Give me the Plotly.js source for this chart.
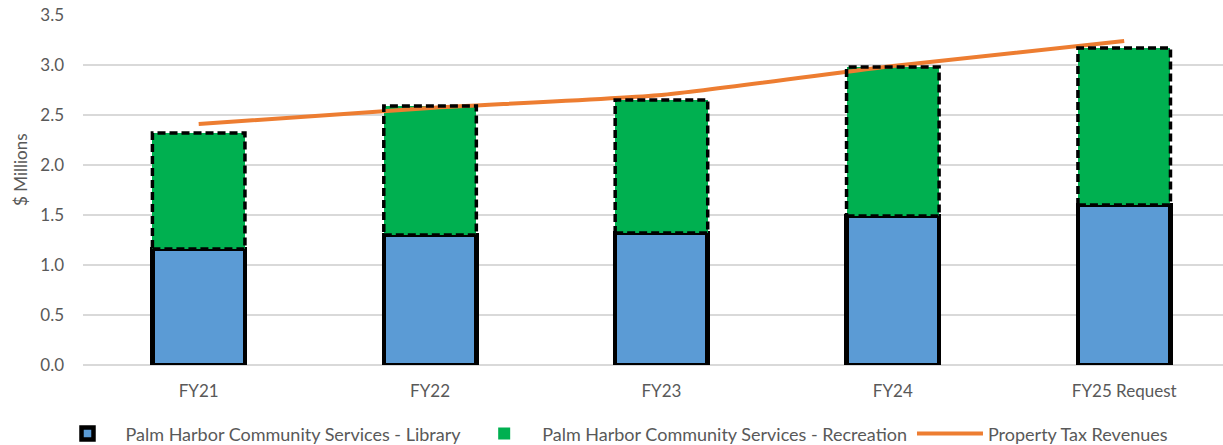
<!DOCTYPE html>
<html>
<head>
<meta charset="utf-8">
<script src="https://cdn.plot.ly/plotly-3.0.1.min.js"></script>
<style>html,body{margin:0;padding:0;background:#fff;}#chart{width:1223px;height:445px;}</style>
</head>
<body>
<div id="chart"></div>
<script>
const categories = ["FY21", "FY22", "FY23", "FY24", "FY25 Request"];
const library = [1.16, 1.30, 1.32, 1.49, 1.60];
const recreation = [1.16, 1.29, 1.33, 1.49, 1.57];
const propertyTax = [2.41, 2.57, 2.70, 2.99, 3.24];
const yTicks = [0, 0.5, 1.0, 1.5, 2.0, 2.5, 3.0, 3.5];
const yTickText = ["0.0", "0.5", "1.0", "1.5", "2.0", "2.5", "3.0", "3.5"];
const yTitle = "$ Millions";

const BAR_W = 0.4;
const FONT = "Lato, 'Open Sans', sans-serif";
const GREY = "#595959";

const traces = [
  {
    type: "bar", name: "Palm Harbor Community Services - Library",
    x: categories, y: library, width: BAR_W,
    marker: {color: "#5B9BD5", line: {color: "#000000", width: 4.5}},
    hoverinfo: "y"
  },
  {
    type: "bar", name: "Palm Harbor Community Services - Recreation",
    x: categories, y: recreation, width: BAR_W,
    marker: {color: "#00B050", line: {color: "#000000", width: 0}},
    hoverinfo: "y"
  },
  {
    type: "scatter", mode: "lines", name: "Property Tax Revenues",
    x: categories, y: propertyTax,
    line: {color: "#ED7D31", width: 4, shape: "spline", smoothing: 0.5}
  }
];

// dashed outlines for the recreation segments, positioned on the axes from the data
const shapes = categories.map((c, i) => ({
  type: "rect", xref: "x", yref: "y", layer: "above",
  x0: i - BAR_W / 2, x1: i + BAR_W / 2,
  y0: library[i], y1: library[i] + recreation[i],
  line: {color: "#000000", width: 3.5, dash: "8px,4px"}
}));

const layout = {
  width: 1223, height: 445,
  margin: {l: 83, r: 0, t: 15, b: 80},
  paper_bgcolor: "#ffffff", plot_bgcolor: "#ffffff",
  barmode: "stack",
  font: {family: FONT, size: 17, color: GREY},
  xaxis: {
    type: "category", range: [-0.5, 4.427],
    showgrid: false, zeroline: false, showline: false,
    ticks: "", tickfont: {size: 17, color: GREY}, ticklabelstandoff: 14
  },
  yaxis: {
    range: [0, 3.5], tickvals: yTicks, ticktext: yTickText,
    showgrid: true, gridcolor: "#d9d9d9", gridwidth: 1.3,
    zeroline: true, zerolinecolor: "#d9d9d9", zerolinewidth: 1.5,
    showline: false, ticks: "", ticklabelstandoff: 18,
    tickfont: {size: 17, color: GREY}
  },
  annotations: [{
    text: yTitle, textangle: -90, showarrow: false,
    xref: "paper", yref: "paper", x: -0.0544, xanchor: "center",
    y: 0.56, yanchor: "middle",
    font: {size: 17, color: GREY}
  }],
  legend: {
    orientation: "h", xref: "container", yref: "container",
    x: 0.5, xanchor: "center", y: 0.025, yanchor: "middle",
    font: {size: 18, color: GREY}, itemwidth: 66, traceorder: "normal"
  },
  shapes: shapes,
  showlegend: true
};

Plotly.newPlot("chart", traces, layout, {displayModeBar: false, staticPlot: true});
</script>
</body>
</html>
